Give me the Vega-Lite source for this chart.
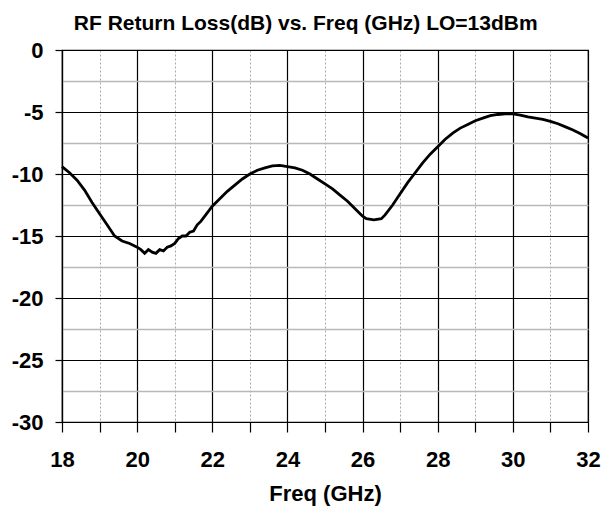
{
  "$schema": "https://vega.github.io/schema/vega-lite/v6.json",
  "width": 526,
  "height": 372,
  "autosize": {"type": "none"},
  "padding": {"left": 62, "top": 50, "right": 16, "bottom": 85},
  "background": "white",
  "title": {
    "text": "RF Return Loss(dB) vs. Freq (GHz) LO=13dBm",
    "font": "Liberation Sans",
    "fontSize": 21,
    "fontWeight": "bold",
    "color": "black",
    "anchor": "middle",
    "frame": "bounds",
    "offset": 5
  },
  "data": {
    "values": [
      {"f": 18.0, "db": -9.4}, {"f": 18.2, "db": -9.9}, {"f": 18.4, "db": -10.5},
      {"f": 18.6, "db": -11.3}, {"f": 18.8, "db": -12.3}, {"f": 19.0, "db": -13.2},
      {"f": 19.2, "db": -14.1}, {"f": 19.4, "db": -15.0}, {"f": 19.6, "db": -15.4},
      {"f": 19.8, "db": -15.6}, {"f": 20.0, "db": -15.9}, {"f": 20.1, "db": -16.1},
      {"f": 20.2, "db": -16.4}, {"f": 20.3, "db": -16.1}, {"f": 20.4, "db": -16.3},
      {"f": 20.5, "db": -16.4}, {"f": 20.6, "db": -16.1}, {"f": 20.7, "db": -16.2},
      {"f": 20.8, "db": -15.9}, {"f": 20.9, "db": -15.8}, {"f": 21.0, "db": -15.6},
      {"f": 21.1, "db": -15.2}, {"f": 21.2, "db": -15.0}, {"f": 21.3, "db": -15.0},
      {"f": 21.4, "db": -14.7}, {"f": 21.5, "db": -14.6}, {"f": 21.6, "db": -14.1},
      {"f": 21.7, "db": -13.8}, {"f": 21.8, "db": -13.4}, {"f": 22.0, "db": -12.6},
      {"f": 22.2, "db": -12.0}, {"f": 22.4, "db": -11.4}, {"f": 22.6, "db": -10.9},
      {"f": 22.8, "db": -10.4}, {"f": 23.0, "db": -10.0}, {"f": 23.2, "db": -9.7},
      {"f": 23.4, "db": -9.5}, {"f": 23.6, "db": -9.35}, {"f": 23.8, "db": -9.3},
      {"f": 24.0, "db": -9.4}, {"f": 24.2, "db": -9.5}, {"f": 24.4, "db": -9.7},
      {"f": 24.6, "db": -10.0}, {"f": 24.8, "db": -10.4}, {"f": 25.0, "db": -10.8},
      {"f": 25.2, "db": -11.2}, {"f": 25.4, "db": -11.7}, {"f": 25.6, "db": -12.2},
      {"f": 25.8, "db": -12.8}, {"f": 26.0, "db": -13.4}, {"f": 26.1, "db": -13.6},
      {"f": 26.3, "db": -13.7}, {"f": 26.5, "db": -13.6}, {"f": 26.6, "db": -13.3},
      {"f": 26.8, "db": -12.5}, {"f": 27.0, "db": -11.6}, {"f": 27.2, "db": -10.7},
      {"f": 27.4, "db": -9.9}, {"f": 27.6, "db": -9.1}, {"f": 27.8, "db": -8.4},
      {"f": 28.0, "db": -7.8}, {"f": 28.2, "db": -7.2}, {"f": 28.4, "db": -6.7},
      {"f": 28.6, "db": -6.3}, {"f": 28.8, "db": -6.0}, {"f": 29.0, "db": -5.7},
      {"f": 29.2, "db": -5.5}, {"f": 29.4, "db": -5.3}, {"f": 29.6, "db": -5.2},
      {"f": 29.8, "db": -5.15}, {"f": 30.0, "db": -5.15}, {"f": 30.2, "db": -5.25},
      {"f": 30.4, "db": -5.4}, {"f": 30.6, "db": -5.5}, {"f": 30.8, "db": -5.6},
      {"f": 31.0, "db": -5.75}, {"f": 31.2, "db": -5.95}, {"f": 31.4, "db": -6.2},
      {"f": 31.6, "db": -6.45}, {"f": 31.8, "db": -6.75}, {"f": 32.0, "db": -7.1}
    ]
  },
  "layer": [
    {
      "mark": {"type": "line", "opacity": 0},
      "encoding": {
        "x": {
          "field": "f", "type": "quantitative",
          "scale": {"domain": [18, 32], "nice": false, "zero": false},
          "axis": {
            "orient": "bottom",
            "values": [19, 21, 23, 25, 27, 29, 31],
            "grid": true, "gridColor": "#a8a8a8", "gridDash": [2, 2], "gridWidth": 1,
            "ticks": true, "tickSize": 10, "tickColor": "black", "tickWidth": 1.2,
            "labels": false, "domain": false, "title": null
          }
        },
        "y": {
          "field": "db", "type": "quantitative",
          "scale": {"domain": [-30, 0], "nice": false, "zero": false},
          "axis": {
            "orient": "left",
            "values": [-27.5, -22.5, -17.5, -12.5, -7.5, -2.5],
            "grid": true, "gridColor": "#b8b8b8", "gridWidth": 1.5,
            "ticks": false, "labels": false, "domain": false, "title": null
          }
        }
      }
    },
    {
      "mark": {"type": "line", "color": "black", "strokeWidth": 2.8, "interpolate": "linear"},
      "encoding": {
        "x": {
          "field": "f", "type": "quantitative",
          "axis": {
            "orient": "bottom",
            "values": [18, 20, 22, 24, 26, 28, 30, 32],
            "grid": true, "gridColor": "black", "gridWidth": 1.2,
            "ticks": true, "tickSize": 10, "tickColor": "black", "tickWidth": 1.2,
            "domain": true, "domainColor": "black", "domainWidth": 1.2,
            "labelFont": "Liberation Sans", "labelFontSize": 22, "labelFontWeight": "bold",
            "labelColor": "black", "labelPadding": 17, "labelFlush": false,
            "title": "Freq (GHz)", "titleFont": "Liberation Sans", "titleFontSize": 22,
            "titleFontWeight": "bold", "titleColor": "black", "titlePadding": 13
          }
        },
        "y": {
          "field": "db", "type": "quantitative",
          "axis": {
            "orient": "left",
            "values": [-30, -25, -20, -15, -10, -5, 0],
            "grid": true, "gridColor": "black", "gridWidth": 1.2,
            "ticks": true, "tickSize": 7, "tickColor": "black", "tickWidth": 1.2,
            "domain": true, "domainColor": "black", "domainWidth": 1.2,
            "labelFont": "Liberation Sans", "labelFontSize": 22, "labelFontWeight": "bold",
            "labelColor": "black", "labelPadding": 12, "labelFlush": false,
            "labelExpr": "datum.value == 0 ? '0' : '-' + abs(datum.value)",
            "title": null
          }
        }
      }
    }
  ],
  "resolve": {"axis": {"x": "independent", "y": "independent"}},
  "config": {"view": {"stroke": "black", "strokeWidth": 1.2}}
}
